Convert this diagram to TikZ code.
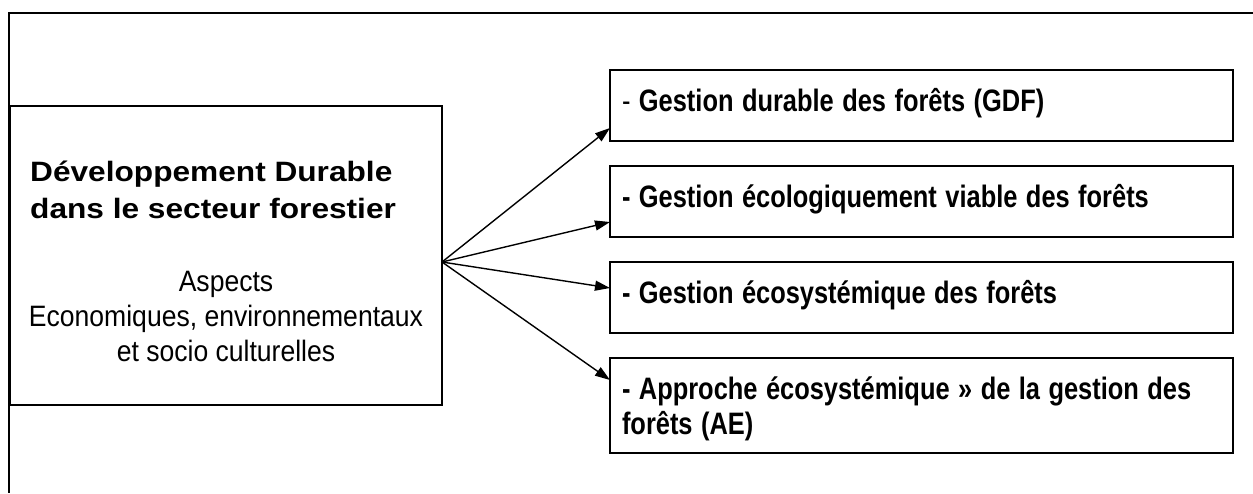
\documentclass[tikz,border=0pt]{standalone}
\usepackage{fontspec}
\usepackage{graphicx}
\setmainfont{Liberation Sans}
\newcommand{\titrelarge}[1]{\scalebox{1.13}[1]{#1}}
\newcommand{\aspectetroit}[1]{\scalebox{0.90}[1]{#1}}
\newcommand{\etroit}[1]{\scalebox{0.82}[1]{#1}}
\usetikzlibrary{arrows.meta,positioning}

\begin{document}
\begin{tikzpicture}[x=1pt, y=-1pt,
    cadre/.style={line width=2pt},
    boite/.style={draw, line width=1.4pt, inner sep=0pt, outer sep=0pt},
    gestion/.style={draw, line width=1.4pt, minimum width=623pt, text width=599pt,
        inner xsep=12pt, inner ysep=0pt, outer sep=0pt, align=left, minimum height=71pt,
        font=\bfseries\fontsize{31}{35}\selectfont},
    uneligne/.style={text height=26pt, text depth=14pt},
    fleche/.style={-{Triangle[length=15pt,width=10pt]}, line width=1.4pt}]
\useasboundingbox (0,0) rectangle (1253,493);

% cadre ouvert
\draw[cadre] (1253,13) -- (9,13) -- (9,493);

\node (DD) [boite, minimum width=432pt, minimum height=299pt] at (226,255.5) {};
\path (DD.north west)+(20,55) node (titre) [anchor=north west, inner sep=0pt,
    align=left, font=\bfseries\fontsize{28}{37}\selectfont]
    {\titrelarge{Développement Durable}\\\titrelarge{dans le secteur forestier}};
\path (DD.north)+(0,165) node (aspects) [anchor=north, inner sep=0pt,
    align=center, font=\fontsize{29.5}{35}\selectfont]
    {\aspectetroit{Aspects}\\\aspectetroit{Economiques, environnementaux}\\
     \aspectetroit{et socio culturelles}};

\path (DD.north east)+(479.5,-0.5) node (gdf) [gestion, uneligne]
    {\etroit{{\mdseries -} Gestion durable des forêts (GDF)}};
\node (gev) [gestion, uneligne, below=25pt of gdf]
    {\etroit{- Gestion écologiquement viable des forêts}};
\node (ges) [gestion, uneligne, below=25pt of gev]
    {\etroit{- Gestion écosystémique des forêts}};
\node (ae) [gestion, minimum height=95pt, text height=29pt, text depth=41pt,
    below=25pt of ges]
    {\etroit{- Approche écosystémique » de la gestion des}\\\etroit{forêts (AE)}};

\coordinate (fan) at ([yshift=-6.5pt]DD.east);
\path[fleche] (fan) edge ([yshift=-22.5pt]gdf.west);
\path[fleche] (fan) edge ([yshift=-20.5pt]gev.west);
\path[fleche] (fan) edge ([yshift=9.5pt]ges.west);
\path[fleche] (fan) edge ([yshift=25.5pt]ae.west);

\end{tikzpicture}
\end{document}
